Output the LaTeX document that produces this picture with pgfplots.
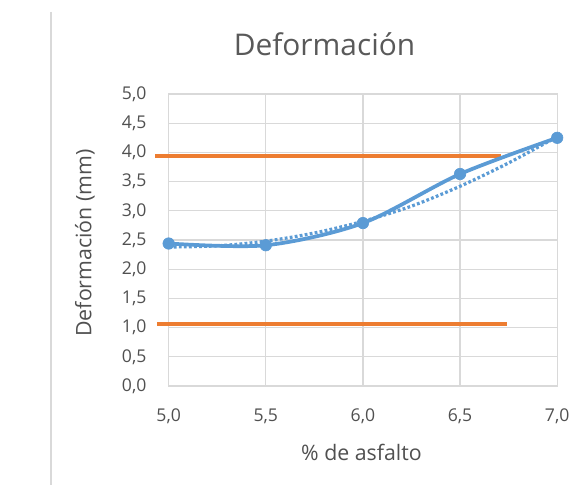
\documentclass[border=0pt]{standalone}
\usepackage{pgfplots}
\pgfplotsset{compat=1.18}
\usepackage{fontspec}
\setmainfont{Open Sans}

\definecolor{serieblue}{HTML}{5B9BD5}
\definecolor{limitorange}{HTML}{ED7D31}
\definecolor{gridgrey}{HTML}{D9D9D9}
\definecolor{textgrey}{HTML}{595959}

\begin{document}
\begin{tikzpicture}[x=0.75pt,y=0.75pt]
  % canvas in pixel units (y grows upward)
  \path[use as bounding box] (0,0) rectangle (578,486);
  % left border of the chart area
  \draw[gridgrey,line width=1.2pt] (50.7,474) -- (50.7,1);

  \begin{axis}[
    at={(126.5pt,75pt)}, anchor=south west,
    scale only axis,
    width=291.4pt, height=219pt,
    xmin=5, xmax=7, ymin=0, ymax=5,
    xtick={5,5.5,...,7}, ytick={0,0.5,...,5},
    grid=major,
    major grid style={gridgrey,line width=0.9pt},
    axis line style={gridgrey,line width=0.9pt},
    major tick length=0pt,
    clip=false,
    /pgf/number format/.cd, fixed, fixed zerofill, precision=1, use comma, assume math mode=true,
    /pgfplots/.cd,
    ticklabel style={font=\fontsize{13.2}{15}\selectfont, text=textgrey!90!black, inner sep=0pt},
    yticklabel style={anchor=east, xshift=-16.5pt},
    xticklabel style={anchor=center, yshift=-23pt},
  ]
    % limits
    \addplot[limitorange, line width=3pt] coordinates {(4.93,3.93) (6.71,3.93)};
    \addplot[limitorange, line width=3pt] coordinates {(4.94,1.06) (6.74,1.06)};
    % trend (dotted)
    \addplot[serieblue, line width=2.4pt, smooth, dash pattern=on 2.1pt off 1.7pt]
      coordinates {(5.0,2.38) (5.25,2.40) (5.5,2.48) (5.75,2.62) (6.0,2.82)
                   (6.25,3.08) (6.5,3.42) (6.75,3.82) (7.0,4.27)};
    % measured deformation
    \addplot[serieblue, line width=2.8pt, smooth, mark=*, mark size=4.3pt,
             mark options={fill=serieblue, draw=serieblue, line width=0.5pt}]
      coordinates {(5.0,2.44) (5.5,2.41) (6.0,2.79) (6.5,3.63) (7.0,4.25)};
  \end{axis}

  \node[text=textgrey, font=\fontsize{22.4}{26}\selectfont] at (324.5,442) {Deformación};
  \node[text=textgrey!90!black, font=\fontsize{16}{19}\selectfont] at (361.5,34) {\% de asfalto};
  \node[text=textgrey!90!black, font=\fontsize{16}{19}\selectfont, rotate=90] at (85,243) {Deformación (mm)};
\end{tikzpicture}
\end{document}
